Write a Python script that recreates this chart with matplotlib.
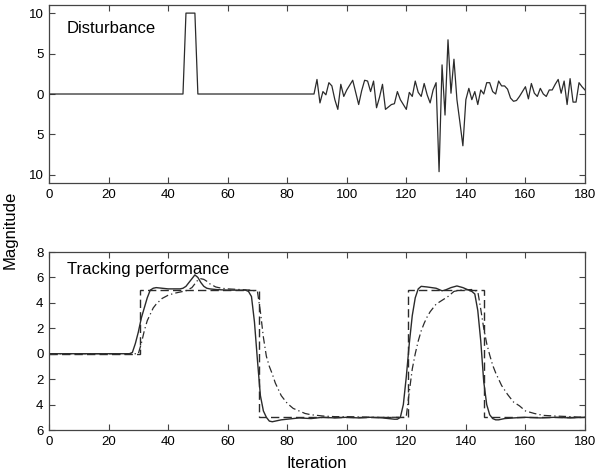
import matplotlib
matplotlib.use('Agg')
import matplotlib.pyplot as plt
import numpy as np

plt.rcParams['font.family'] = ['Liberation Sans', 'DejaVu Sans']

# disturbance signal (top panel)
noise_y = [0.0, 1.8, -1.1, 0.3, -0.1, 1.4, 1.0, -0.7, -1.9, 1.2, -0.3,
           0.5, 1.1, 1.7, 0.2, -1.3, 0.4, 1.7, 1.6, 0.3, 1.6,
           -1.7, -0.4, 1.2, -1.9, -1.6, -1.3, -1.2, 0.3, -0.7, -1.3,
           -1.9, 0.2, -0.3, 1.6, 0.2, -0.3, 1.3, -0.1, -1.1, 0.5,
           1.4, -9.6, 3.6, -2.6, 6.7, 0.1, 4.3, -0.7, -3.5, -6.4,
           -0.7, 0.7, -0.7, 0.3, -1.3, 0.5, 0.0, 1.4, 1.4, 0.3,
           0.0, 1.6, 1.0, 1.0, 0.6, -0.5, -0.9, -0.8, -0.3, 0.3,
           0.9, -0.6, 1.3, 0.1, -0.3, 0.7, 0.0, -0.3, 0.5, 0.5,
           1.2, 1.8, 0.1, 1.6, -1.3, 1.9, -1.0, -1.0, 1.4, 0.9, 0.5]
noise_x = list(range(89, 181))
dist_x = [0, 45, 46, 49, 50] + noise_x
dist_y = [0, 0, 10, 10, 0] + noise_y

# reference step (dashed)
ref_edges = [0, 30.5, 70.5, 120.5, 146, 180]
ref_levels = [0, 5, -5, 5, -5]

# output, solid
out_x = [0, 27, 28, 29, 30, 31, 32, 33, 34, 35, 36, 38, 40, 42, 44, 45, 46, 47, 48,
         49, 50, 51, 52, 53, 54, 56, 60, 64, 66, 67, 68, 69, 70, 71, 72, 73, 74,
         75, 76, 78, 80, 84, 88, 92, 96, 100, 104, 108, 112, 116, 117, 118, 119,
         120, 121, 122, 123, 124, 125, 127, 130, 132, 133, 135, 137, 139, 141,
         142, 143, 144, 145, 146, 147, 148, 149, 150, 151, 153, 156, 160, 165,
         170, 175, 180]
out_y = [0, 0, 0.1, 0.8, 1.7, 2.8, 3.6, 4.4, 5.0, 5.15, 5.2, 5.15, 5.1, 5.1, 5.1,
         5.15, 5.3, 5.6, 5.9, 6.2, 6.0, 5.6, 5.3, 5.15, 5.1, 5.05, 5.0, 5.0, 5.0,
         4.9, 4.5, 2.5, -0.5, -3.3, -4.5, -5.0, -5.3, -5.35, -5.3, -5.2, -5.15,
         -5.05, -5.1, -5.0, -5.05, -5.0, -5.05, -5.0, -5.05, -5.15, -5.15, -5.0,
         -4.0, -1.8, 0.8, 3.0, 4.4, 5.1, 5.3, 5.25, 5.15, 4.95, 5.0, 5.2, 5.33,
         5.2, 5.0, 4.9, 4.7, 3.4, 1.0, -2.2, -4.0, -4.8, -5.1, -5.2, -5.2, -5.1,
         -5.05, -5.0, -5.05, -5.0, -5.05, -5.0]

# output, dash-dot (slower response)
slow_x = [0, 29, 30, 31, 32, 33, 34, 35, 36, 38, 40, 42, 44, 46, 48, 49, 50, 51,
          52, 53, 54, 56, 58, 60, 64, 68, 70, 71, 72, 73, 74, 75, 76, 78, 80, 82,
          84, 86, 88, 92, 96, 100, 110, 119, 120, 121, 122, 123, 124, 125, 126,
          127, 128, 130, 132, 134, 136, 138, 142, 144, 145, 146, 147, 148, 149,
          150, 152, 154, 156, 158, 160, 163, 166, 170, 175, 180]
slow_y = [0, 0, 0.0, 0.8, 1.8, 2.6, 3.1, 3.6, 3.9, 4.35, 4.6, 4.75, 4.85, 4.95,
          5.2, 5.5, 5.8, 5.9, 5.85, 5.7, 5.5, 5.25, 5.15, 5.1, 5.05, 5.0, 4.9,
          3.3, 1.3, -0.2, -1.0, -1.6, -2.3, -3.3, -3.9, -4.3, -4.5, -4.7, -4.8,
          -4.9, -4.95, -4.95, -5.0, -5.0, -4.9, -3.0, -1.2, 0.0, 1.0, 1.8, 2.4,
          2.9, 3.3, 3.9, 4.2, 4.5, 4.9, 5.0, 5.05, 4.9, 3.5, 2.0, 0.8, -0.1, -0.9,
          -1.5, -2.5, -3.2, -3.8, -4.1, -4.5, -4.7, -4.85, -4.9, -4.95, -5.0]

xticks = np.arange(0, 181, 20)
top_yticks = [-10, -5, 0, 5, 10]
top_ylabels = ['10', '5', '0', '5', '10']
bot_yticks = [-6, -4, -2, 0, 2, 4, 6, 8]
bot_ylabels = ['6', '4', '2', '0', '2', '4', '6', '8']

lc = '#2b2b2b'
fig = plt.figure(figsize=(5.96, 4.73), dpi=100)
ax1 = fig.add_axes([0.0822, 0.6131, 0.8993, 0.3763])
ax2 = fig.add_axes([0.0822, 0.0909, 0.8993, 0.3763])

ax1.plot(dist_x, dist_y, color=lc, lw=0.9)
ax1.set_xlim(0, 180)
ax1.set_ylim(-11, 11)
ax1.set_yticks(top_yticks)
ax1.set_yticklabels(top_ylabels)
ax1.text(6, 8.1, 'Disturbance', fontsize=12, va='center', ha='left')

ax2.stairs(ref_levels, ref_edges, baseline=None, color=lc, lw=1.0,
           linestyle=(0, (6, 3)))
ax2.plot(out_x, out_y, color=lc, lw=1.0)
ax2.plot(slow_x, slow_y, color=lc, lw=0.9, linestyle=(0, (6, 2.5, 1, 2.5)))
ax2.set_xlim(0, 180)
ax2.set_ylim(-6, 8)
ax2.set_yticks(bot_yticks)
ax2.set_yticklabels(bot_ylabels)
ax2.text(6.2, 6.6, 'Tracking performance', fontsize=12, va='center', ha='left')

for ax in (ax1, ax2):
    ax.set_xticks(xticks)
    ax.tick_params(direction='in', top=True, right=True, length=4,
                   labelsize=9.5, color='#444444', pad=4)
    for s in ax.spines.values():
        s.set_color('#444444')
        s.set_linewidth(0.9)

fig.text(0.017, 0.515, 'Magnitude', rotation=90, fontsize=12,
         ha='center', va='center')
fig.text(0.532, 0.021, 'Iteration', fontsize=12, ha='center', va='center')

fig.savefig('out.png', dpi=100)
